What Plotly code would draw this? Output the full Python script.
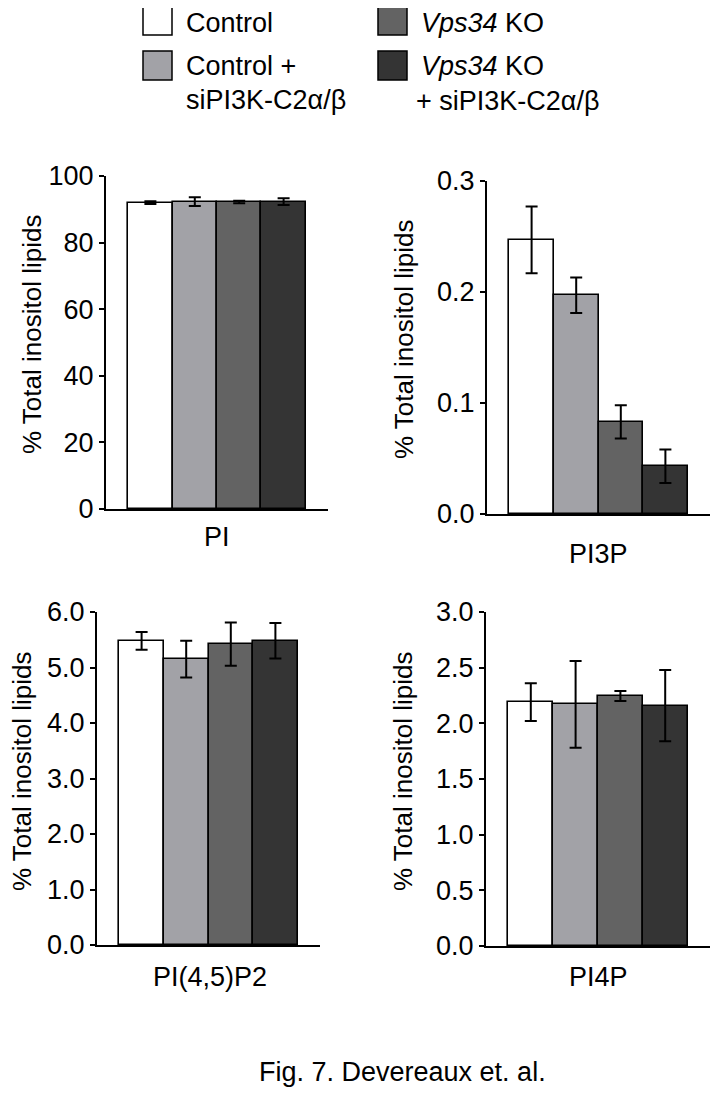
import plotly.graph_objects as go

# browser body margin (8px) is compensated for: figure is 8px smaller and coordinates shifted
OFF = 8
W, H = 718 - OFF, 1102 - OFF

conditions = ["Control", "Control + siPI3K-C2α/β", "Vps34 KO", "Vps34 KO + siPI3K-C2α/β"]
colors = ["#ffffff", "#a2a2a7", "#636363", "#343434"]

pi_vals = [92.0, 92.3, 92.2, 92.3]
pi_err = [0.4, 1.3, 0.4, 1.0]
pi3p_vals = [0.247, 0.197, 0.083, 0.043]
pi3p_err = [0.030, 0.016, 0.015, 0.015]
pi45p2_vals = [5.48, 5.15, 5.42, 5.48]
pi45p2_err = [0.16, 0.33, 0.39, 0.32]
pi4p_vals = [2.19, 2.17, 2.245, 2.16]
pi4p_err = [0.17, 0.39, 0.045, 0.32]

panel_names = ["PI", "PI3P", "PI(4,5)P2", "PI4P"]
y_ranges = [[0, 100], [0, 0.3], [0, 6], [0, 3]]
y_dtick = [20, 0.1, 1, 0.5]
y_fmt = ["d", ".1f", ".1f", ".1f"]
y_title = "% Total inositol lipids"
legend_lines = [["Control"], ["Control +", "siPI3K-C2α/β"],
                ["<i>Vps34</i> KO"], ["<i>Vps34</i> KO", "+ siPI3K-C2α/β"]]
caption = "Fig. 7. Devereaux et. al."

values = [pi_vals, pi3p_vals, pi45p2_vals, pi4p_vals]
errors = [pi_err, pi3p_err, pi45p2_err, pi4p_err]

# pixel layout (left, right, top, bottom) of each plot area, in screenshot pixels
boxes = [(106, 328, 176, 509), (487, 710, 181, 514), (97, 320, 612, 945), (486, 710, 612, 946)]
label_pos = [(217, 537), (598, 554), (210, 977), (598, 977)]
ytitle_pos = [(32, 335), (404, 340), (22, 772), (403, 772)]

FONT = "Arial, 'Liberation Sans', sans-serif"
FS = 27

def px(x):
    return (x - OFF) / W

def py(y):
    return 1 - (y - OFF) / H

fig = go.Figure()
layout = dict(width=W, height=H, template="none",
              margin=dict(l=0, r=0, t=0, b=0, pad=0, autoexpand=False),
              paper_bgcolor="white", plot_bgcolor="white", showlegend=False,
              font=dict(family=FONT, color="black"), bargap=0)
annotations = []
shapes = []

for i in range(4):
    n = "" if i == 0 else str(i + 1)
    l, r, t, b = boxes[i]
    fig.add_trace(go.Bar(
        x=conditions, y=values[i], width=1,
        marker=dict(color=colors, line=dict(color="black", width=1.6)),
        error_y=dict(type="data", array=errors[i], visible=True, color="black", thickness=2, width=6),
        xaxis="x" + n, yaxis="y" + n, hoverinfo="skip"))
    layout["xaxis" + n] = dict(domain=[px(l), px(r)], anchor="y" + n, type="category",
                               range=[-1.0, 4.0], showticklabels=False, ticks="",
                               showline=True, linecolor="black", linewidth=2, automargin=False,
                               showgrid=False, zeroline=False, fixedrange=True)
    layout["yaxis" + n] = dict(domain=[py(b), py(t)], anchor="x" + n, range=y_ranges[i],
                               dtick=y_dtick[i], tick0=0, tickformat=y_fmt[i], automargin=False,
                               ticks="outside", ticklen=5, tickwidth=2, tickcolor="black",
                               showline=True, linecolor="black", linewidth=2,
                               showgrid=False, zeroline=False, fixedrange=True,
                               tickfont=dict(size=FS, family=FONT, color="black"))
    lx, ly = label_pos[i]
    annotations.append(dict(text=panel_names[i], x=px(lx), y=py(ly), xref="paper", yref="paper",
                            xanchor="center", yanchor="middle", showarrow=False,
                            font=dict(size=FS, family=FONT, color="black")))
    tx, ty = ytitle_pos[i]
    annotations.append(dict(text=y_title, x=px(tx), y=py(ty), xref="paper", yref="paper",
                            xanchor="center", yanchor="middle", showarrow=False, textangle=-90,
                            borderpad=0,
                            font=dict(size=26, family=FONT, color="black")))

# legend drawn as swatches + text
sw = [(143, 172, 7, 35), (143, 172, 51, 80), (378, 407, 7, 35), (378, 407, 51, 80)]
line_pos = [[(185, 23)], [(185, 66), (185, 100)], [(420, 23)], [(420, 66), (415, 101)]]
for k in range(4):
    x0, x1, y0, y1 = sw[k]
    shapes.append(dict(type="rect", xref="paper", yref="paper", x0=px(x0), x1=px(x1),
                       y0=py(y1), y1=py(y0), fillcolor=colors[k],
                       line=dict(color="black", width=1.5)))
    for line, (tx, ty) in zip(legend_lines[k], line_pos[k]):
        annotations.append(dict(text=line, x=px(tx), y=py(ty), xref="paper", yref="paper",
                                xanchor="left", yanchor="middle", align="left", showarrow=False,
                                borderpad=0,
                                font=dict(size=FS, family=FONT, color="black")))

annotations.append(dict(text=caption, x=px(402), y=py(1072), xref="paper", yref="paper",
                        xanchor="center", yanchor="middle", showarrow=False,
                        font=dict(size=FS, family=FONT, color="black")))

layout["annotations"] = annotations
layout["shapes"] = shapes
fig.update_layout(**layout)
fig.write_html("out.html")
